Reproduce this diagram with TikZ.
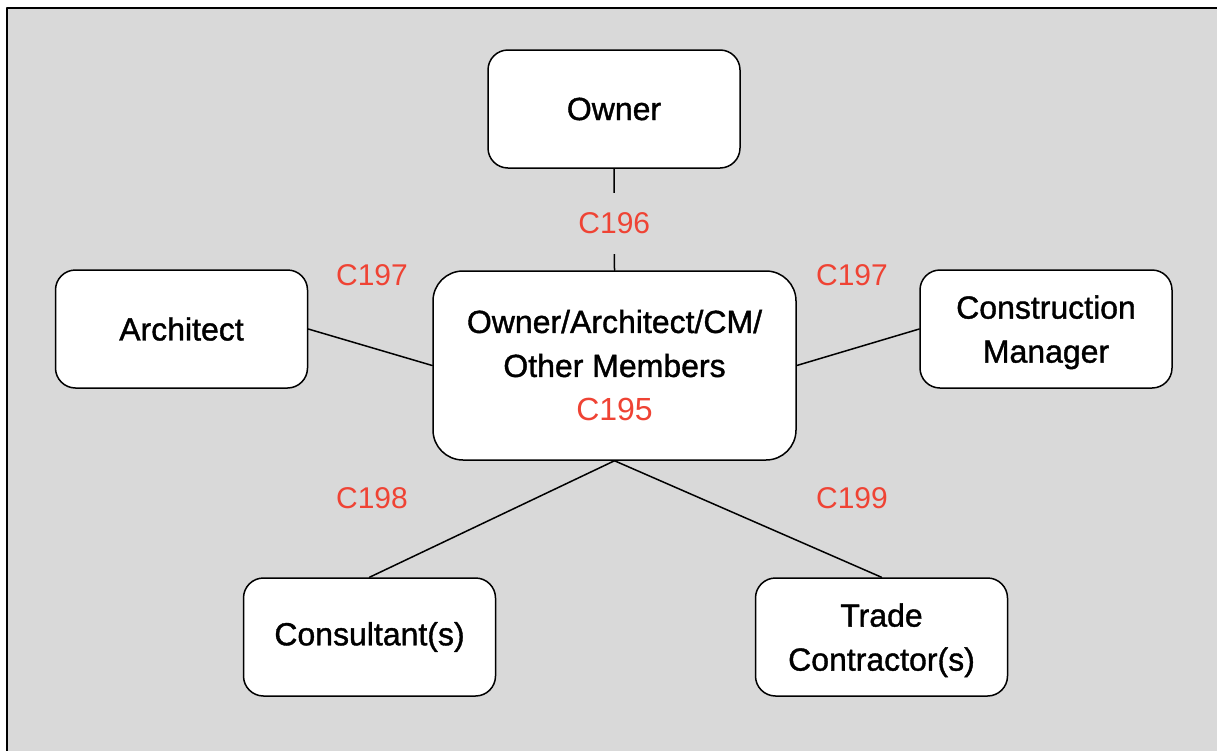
\documentclass[tikz,border=0pt]{standalone}
\usepackage{fontspec}
\setmainfont{Liberation Sans}[RawFeature={embolden=1.2}]
\newfontfamily\codefont{Liberation Sans}
\definecolor{bggray}{RGB}{217,217,217}
\definecolor{codered}{RGB}{239,67,52}
\begin{document}
\begin{tikzpicture}[x=1pt,y=-1pt, line join=round, line cap=round, font=\fontsize{32}{44}\selectfont,
	box/.style={draw, line width=1.5pt, rounded corners=20pt, fill=white, align=center, minimum width=252pt, minimum height=118pt, inner sep=0pt},
	code/.style={text=codered, font=\codefont\fontsize{30}{36}\selectfont},
	link/.style={line width=1.5pt}]
	\useasboundingbox (0,0) rectangle (1217,750);
	\draw[line width=2.5pt, fill=bggray] (7,8) rectangle (1240,770);
	% boxes
	\node[box] (owner) at (614,109) {Owner};
	\node[box] (architect) at (181.5,329) {Architect};
	\node[box, text depth=0pt] (cm) at (1046,329) {Construction\\Manager};
	\node[box] (consultant) at (369.5,637) {Consultant(s)};
	\node[box, text depth=0pt] (trade) at (881.5,637) {Trade\\Contractor(s)};
	\node[box, minimum width=363pt, minimum height=189pt, rounded corners=30pt] (hub) at (614.5,365.5) {Owner/Architect/CM/\\Other Members\\{\codefont\textcolor{codered}{C195}}};
	% links
	\draw[link] (owner.south)--(hub.north) node[pos=0.54, code, fill=bggray, inner xsep=2pt, inner ysep=20pt]{C196};
	\draw[link] (architect.east)--(hub.west);
	\draw[link] (cm.west)--(hub.east);
	\draw[link] (hub.south)--(consultant.north);
	\draw[link] (hub.south)--(trade.north);
	% contract labels
	\node[code] (c197a) at (372,275) {C197};
	\node[code] (c197b) at (852,275) {C197};
	\node[code] (c198) at (372,498) {C198};
	\node[code] (c199) at (852,498) {C199};
\end{tikzpicture}
\end{document}
